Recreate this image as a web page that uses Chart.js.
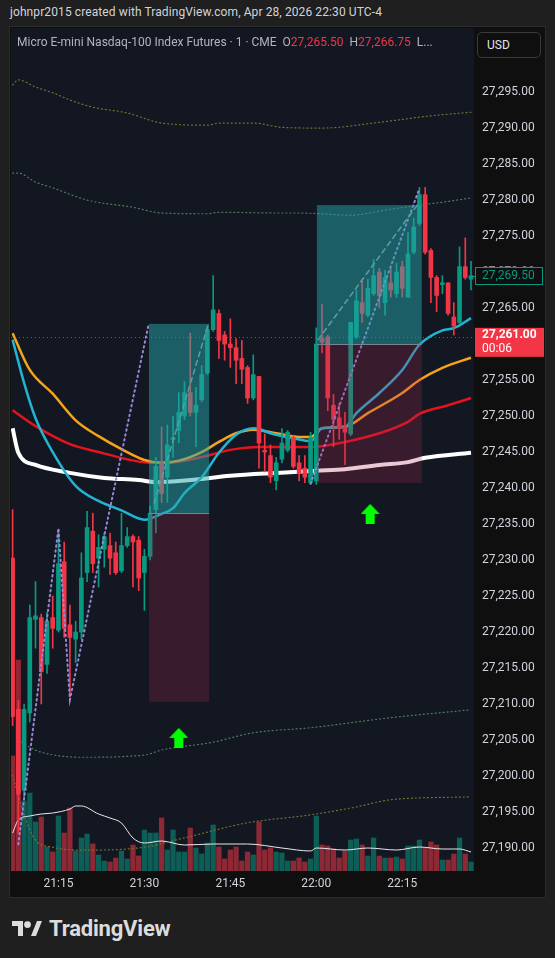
<!DOCTYPE html>
<html>
<head>
<meta charset="utf-8">
<script src="https://cdn.jsdelivr.net/npm/chart.js@4.4.1/dist/chart.umd.min.js"></script>
<style>
  body { margin: 0; width: 555px; height: 958px; background: #1f1f1f; overflow: hidden;
         font-family: Roboto, "Noto Sans", sans-serif; position: relative; }
  #credit { position: absolute; left: 10px; top: 5px; color: #d1d4dc; font-size: 12px; letter-spacing: 0.1px; }
  #frame { position: absolute; left: 9px; top: 26px; width: 537px; height: 872px;
           border: 1px solid #2c2c2c; box-sizing: border-box; background: #0f0f0f; }
  #wrap { position: absolute; left: 10px; top: 27px; width: 535px; height: 870px; }
  #legend { position: absolute; left: 17px; top: 35px; color: #b2b5be; font-size: 12px; white-space: pre; }
  #legend .dn { color: #f23645; }
  #usd { position: absolute; left: 477px; top: 32px; width: 64px; height: 26px; box-sizing: border-box;
         border: 1px solid #3a3a3a; border-radius: 5px; background: #0f0f0f; color: #e0e3eb;
         font-size: 12px; line-height: 24px; padding-left: 9px; }
  #footer { position: absolute; left: 12px; top: 914px; height: 28px; display: flex; align-items: center; }
  #footer span { color: #dcdcdc; font-size: 22px; font-weight: 700; margin-left: 7px; letter-spacing: -0.2px; }
</style>
</head>
<body>
<div id="credit">johnpr2015 created with TradingView.com, Apr 28, 2026 22:30 UTC-4</div>
<div id="frame"></div>
<div id="wrap"><canvas id="chart" width="535" height="870"></canvas></div>
<div id="legend">Micro E-mini Nasdaq-100 Index Futures · 1 · CME  O<span class="dn">27,265.50</span>  H<span class="dn">27,266.75</span>  L...</div>
<div id="usd">USD</div>
<div id="footer">
  <svg width="30" height="15" viewBox="0 0 30 15">
    <path d="M0 0 H11 V15 H6 V5 H0 Z" fill="#dcdcdc"/>
    <circle cx="15.5" cy="3.6" r="3.4" fill="#dcdcdc"/>
    <path d="M19 15 L25 0 H30 L24 15 Z" fill="#dcdcdc"/>
  </svg>
  <span>TradingView</span>
</div>
<script>
// ── DATA ────────────────────────────────────────────────────────────────────
// 1-minute candles, 21:07 .. 22:27 (index 0 = 21:07)
const opens  = [27230.25,27209.25,27198,27208.75,27221.75,27222,27215.5,27222,27220.25,27229.75,
                27221,27219,27220,27228.25,27234,27230.25,27231.5,27232,27231,27228.5,
                27232,27233.25,27232.75,27228.25,27230.5,27237,27243.5,27241.5,27246.75,27248,
                27250,27253.25,27250.5,27252.25,27256,27262,27264.25,27261.25,27260,27259.5,
                27258,27256.75,27252.5,27255.5,27245.25,27244.5,27241,27244,27245.25,27247,
                27243.5,27242.75,27240.75,27241,27260.75,27261,27251.5,27249.75,27248.5,27247.5,
                27261,27265.75,27264,27267,27270,27265.75,27268.5,27267,27270.75,27266.5,
                27272.75,27276.75,27280.75,27273,27269.25,27268.25,27268.5,27263.75,27263,27270.75,
                27269];
const highs  = [27237,27210.5,27210,27223.75,27227,27222.5,27222.75,27225,27233.75,27232.5,
                27223.75,27221.5,27231,27236.75,27236.5,27233.5,27233.75,27233.75,27232.5,27236.5,
                27234.5,27233.5,27233.25,27231.5,27237.5,27244.25,27248.5,27248.75,27250,27253.25,
                27254.75,27261.5,27254,27257,27262.5,27269.5,27264.75,27261.75,27263.5,27260.75,
                27260.5,27257,27258.5,27255.5,27247.5,27246,27244.25,27248.25,27248,27247.25,
                27244.5,27244.5,27247.75,27262.25,27265.5,27261.25,27253,27251.75,27250.5,27263,
                27267.5,27269,27269,27271.75,27270.5,27270.25,27270.5,27271.25,27271.5,27275.5,
                27277.5,27281.75,27281.75,27273.25,27269.5,27269.5,27268.5,27265.75,27273.5,27274.75,
                27271.5];
const lows   = [27207,27192,27196.75,27207.5,27217.75,27210,27214.25,27217.75,27220,27219.25,
                27211,27215.75,27219,27227,27228.25,27226.25,27229,27228,27228,27228.25,
                27231.75,27226.25,27225.75,27223,27230,27233.75,27238,27238,27244.25,27246.25,
                27249.5,27250,27245.75,27252,27255.75,27261.75,27258,27257.75,27256.75,27254.5,
                27254.5,27251.75,27252.25,27242.75,27242.25,27240.75,27239.75,27243.5,27245,27242.75,
                27241,27240.75,27240.5,27240.5,27258.75,27250.75,27245.75,27246.75,27243.25,27247.25,
                27260.75,27263,27263.75,27266.75,27265,27264,27266.5,27266.5,27266.5,27266.5,
                27272.5,27276.5,27272.5,27265.75,27264.5,27267,27264,27261.25,27262.75,27269,
                27267.5];
const closes = [27208.25,27197.5,27209.25,27222,27222.25,27214.5,27221.5,27220.5,27229.5,27220.5,
                27219.25,27220,27227.5,27234.5,27229.5,27231.75,27233.25,27230.25,27228.25,27232,
                27233.25,27232.5,27227.5,27230.5,27236.5,27243,27239.25,27246,27247,27250.5,
                27253.25,27250.5,27251.5,27255.75,27262,27264.75,27260.5,27260,27259.5,27257.75,
                27256.5,27252.5,27255.75,27246.25,27245,27241.5,27243.5,27246.25,27247.75,27243,
                27242,27241.5,27247,27260,27260.25,27252.5,27249.5,27248.25,27247.75,27263,
                27266,27264.25,27267.75,27269.5,27266.75,27269.25,27267.5,27270,27267.75,27272.5,
                27276.25,27280.75,27272.75,27269.25,27266.75,27268.5,27264.25,27262.5,27270.75,27269.25,
                27269.5];
const volumes = [1150,2110,700,780,490,540,240,190,550,380,630,200,330,370,270,160,100,90,130,200,
                 120,260,150,410,380,380,530,210,410,190,190,430,230,170,280,460,240,120,210,240,
                 100,190,160,490,210,230,190,180,100,100,130,90,120,550,260,250,220,130,200,310,
                 320,260,150,330,150,130,130,140,120,250,250,310,230,290,260,110,110,170,330,170,90];

// volume moving average (read at sampled minutes)
const volMaIdx = [0,1,3,5,7,10,11,12,15,17,19,21,23,26,30,35,41,47,52,53,58,62,67,71,75,78,80];
const volMa    = [380,510,550,570,580,620,650,650,570,530,480,330,280,300,260,270,270,230,200,230,210,230,210,240,220,220,190];

// moving averages (price)
const cyanIdx  = [0,2,4,7,11,15,19,23,26,28,30,33,36,39,42,43,45,49,52,54,58,60,64,68,71,75,77,80];
const cyanMa   = [27260.6,27254.6,27249.7,27245,27240.3,27238.2,27236.9,27235.6,27236.4,27237.2,27239.3,27241.5,27244.9,27247.4,
                  27248.3,27248.2,27247.6,27246.9,27246.5,27248.3,27248.5,27250.4,27253.2,27256.4,27259.9,27261.9,27262.2,27263.6];
const orangeIdx = [0,3,7,11,15,19,23,26,29,33,36,39,42,46,50,52,54,58,62,68,71,75,80];
const orangeMa  = [27261.5,27256.4,27253.1,27249.4,27247.2,27245.4,27243.9,27243.5,27243.8,27245,27246.4,27247.6,
                   27248.1,27247.6,27247.1,27247.1,27248.3,27248.5,27250.4,27253.2,27255,27256.7,27258.1];
const redIdx   = [0,4,10,15,20,24,27,33,38,43,48,52,58,64,69,71,76,80];
const redMa    = [27250.8,27248.6,27246.1,27245,27244,27243.5,27243.5,27244.3,27245.3,27245.7,27245.7,27245.7,
                  27246.4,27247.6,27249.2,27250.3,27251.5,27252.5];
const whiteIdx = [0,1,4,10,16,22,25,31,38,46,53,58,64,69,72,80];
const whiteMa  = [27248.3,27244.9,27243.2,27242.1,27241.4,27241.1,27240.8,27241.1,27241.7,27242.1,27242.4,27242.6,
                  27243.2,27243.6,27244.2,27244.9];

// dotted envelope bands
const bandTopIdx = [0,1,4,7,10,14,20,26,34,36,42,47,54,64,73,80];
const bandTop    = [27296,27296.7,27295.7,27294.9,27293.9,27292.9,27292.1,27290.7,27290.4,27290.7,27290.7,27290.1,27290,27290.8,27291.7,27292.2];
const bandUpIdx  = [0,1,4,7,13,21,26,34,36,47,50,59,65,71,75,80];
const bandUp     = [27283.75,27283.75,27282.5,27281.7,27280,27279,27278.2,27278.1,27278.3,27278.2,27278.2,27277.9,27278.6,27279.3,27279.7,27280.3];
const bandLoIdx  = [1,3,5,12,23,26,35,42,52,60,66,80];
const bandLo     = [27205,27204,27203.3,27202.6,27202.9,27203.6,27204.7,27206,27206.7,27207.5,27208.1,27209.2];
const bandBotIdx = [0,2,4,7,12,23,30,41,52,60,66,80];
const bandBot    = [27200.1,27194.6,27191.1,27190.1,27189.7,27190.1,27191.4,27193.5,27194.6,27195.7,27196.7,27197.1];

// zigzag (purple dotted) and dashed trend lines
const zig1Idx = [1,8,10,23.7];
const zig1    = [27190.5,27234.4,27210.6,27262.6];
const zig2Idx = [52,71];
const zig2    = [27240.6,27281.6];
const dash1Idx = [24.7,34.1];
const dash1    = [27237.9,27262.6];
const dash2Idx = [53.3,70.9];
const dash2    = [27260.6,27279.6];

// long position boxes
const boxStart  = [23.8, 53.1];
const boxEnd    = [34.3, 71.4];
const boxEntry  = [27236.5, 27260];
const boxTarget = [27262.8, 27279.3];
const boxStop   = [27210.3, 27240.7];

// buy signal arrows
const arrowIdx   = [29, 62.4];
const arrowPrice = [27205.3, 27236.4];

// axis labels
const timeTickIdx = [8, 23, 38, 53, 68];
const timeTicks   = ["21:15", "21:30", "21:45", "22:00", "22:15"];
const priceLabelTop = 27295;   // labels above this sit under the currency button
const lastPrice   = 27269.5;
const alertPrice  = 27261;
const alertTimer  = "00:06";

// ── HELPERS ─────────────────────────────────────────────────────────────────
const UP = "#089981", DN = "#f23645";
const isUp = closes.map((c, i) => c >= opens[i]);
const pts = (idx, vals) => idx.map((x, i) => ({ x, y: vals[i] }));
const fmt = v => v.toLocaleString("en-US", { minimumFractionDigits: 2, maximumFractionDigits: 2 });

function arrowImage() {
  const c = document.createElement("canvas");
  c.width = 19; c.height = 20;
  const g = c.getContext("2d");
  g.fillStyle = "#00ff00";
  g.beginPath();
  g.moveTo(9.5, 0); g.lineTo(19, 10); g.lineTo(14, 10); g.lineTo(14, 20);
  g.lineTo(5, 20); g.lineTo(5, 10); g.lineTo(0, 10); g.closePath();
  g.fill();
  return c;
}

function lineSet(data, color, width, order, dash) {
  return {
    type: "line", data, borderColor: color, borderWidth: width, pointRadius: 0,
    cubicInterpolationMode: "monotone", borderDash: dash || [], order,
    borderCapStyle: dash ? "round" : "butt"
  };
}

// ── PLUGINS ─────────────────────────────────────────────────────────────────
const backdrop = {
  id: "backdrop",
  beforeDraw(chart) {
    const { ctx, chartArea: a } = chart;
    ctx.save();
    ctx.fillStyle = "#0f0f0f";
    ctx.fillRect(0, 0, chart.width, chart.height);
    ctx.fillStyle = "#131722";
    ctx.fillRect(a.left, a.top, a.right - a.left, a.bottom - a.top);
    ctx.restore();
  }
};

const positions = {
  id: "positions",
  afterDatasetsDraw(chart) {
    const { ctx, chartArea: a } = chart;
    const xs = chart.scales.x, ys = chart.scales.y;
    ctx.save();
    ctx.beginPath();
    ctx.rect(a.left, a.top, a.right - a.left, a.bottom - a.top);
    ctx.clip();
    boxStart.forEach((s, i) => {
      const x0 = xs.getPixelForValue(s), x1 = xs.getPixelForValue(boxEnd[i]);
      const yE = ys.getPixelForValue(boxEntry[i]);
      const yT = ys.getPixelForValue(boxTarget[i]);
      const yS = ys.getPixelForValue(boxStop[i]);
      ctx.fillStyle = "rgba(38,166,170,0.5)";
      ctx.fillRect(x0, yT, x1 - x0, yE - yT);
      ctx.fillStyle = "rgba(170,40,85,0.25)";
      ctx.fillRect(x0, yE, x1 - x0, yS - yE);
      ctx.strokeStyle = "#7b8290";
      ctx.lineWidth = 1;
      ctx.beginPath();
      ctx.moveTo(x0, Math.round(yE) + 0.5);
      ctx.lineTo(x1, Math.round(yE) + 0.5);
      ctx.stroke();
    });
    // alert price line
    const yA = Math.round(ys.getPixelForValue(alertPrice)) + 0.5;
    ctx.strokeStyle = "rgba(242,54,69,0.85)";
    ctx.setLineDash([1, 3]);
    ctx.beginPath();
    ctx.moveTo(a.left, yA);
    ctx.lineTo(a.right, yA);
    ctx.stroke();
    ctx.restore();
  },
  afterDraw(chart) {
    const { ctx, chartArea: a } = chart;
    const ys = chart.scales.y;
    ctx.save();
    ctx.font = "12px Roboto, 'Noto Sans', sans-serif";
    ctx.textBaseline = "middle";
    // last price tag
    const yL = ys.getPixelForValue(lastPrice);
    ctx.fillStyle = "#0f0f0f";
    ctx.fillRect(a.right + 1, yL - 9, 68, 18);
    ctx.strokeStyle = UP;
    ctx.lineWidth = 1;
    ctx.strokeRect(a.right + 1.5, Math.round(yL) - 8.5, 67, 17);
    ctx.beginPath();
    ctx.moveTo(a.right - 5, Math.round(yL) + 0.5);
    ctx.lineTo(a.right + 1, Math.round(yL) + 0.5);
    ctx.stroke();
    ctx.fillStyle = UP;
    ctx.fillText(fmt(lastPrice), a.right + 8, yL + 0.5);
    // alert price tag with countdown
    const yA = ys.getPixelForValue(alertPrice);
    ctx.fillStyle = DN;
    ctx.fillRect(a.right + 1, yA - 9, 69, 29);
    ctx.fillStyle = "#ffffff";
    ctx.font = "bold 12px Roboto, 'Noto Sans', sans-serif";
    ctx.fillText(fmt(alertPrice), a.right + 8, yA - 1.5);
    ctx.font = "12px Roboto, 'Noto Sans', sans-serif";
    ctx.fillText(alertTimer, a.right + 8, yA + 12);
    ctx.restore();
  }
};

// ── CHART ───────────────────────────────────────────────────────────────────
const idx = opens.map((_, i) => i);
const VOL_AXIS_MAX = 8430;

new Chart(document.getElementById("chart"), {
  type: "bar",
  data: {
    datasets: [
      { type: "bar", data: idx.map(i => ({ x: i, y: volumes[i] })), yAxisID: "yv",
        backgroundColor: isUp.map(u => u ? "rgba(8,153,129,0.55)" : "rgba(242,54,69,0.55)"),
        barThickness: 4.6, grouped: false, order: 100 },
      Object.assign(lineSet(pts(volMaIdx, volMa), "#e8e8e8", 1, 95), { yAxisID: "yv" }),
      lineSet(pts(bandTopIdx, bandTop), "#74742f", 1.2, 90, [1, 3]),
      lineSet(pts(bandUpIdx, bandUp), "#4f7d5c", 1.2, 90, [1, 3]),
      lineSet(pts(bandLoIdx, bandLo), "#4f7d5c", 1.2, 90, [1, 3]),
      lineSet(pts(bandBotIdx, bandBot), "#74742f", 1.2, 90, [1, 3]),
      lineSet(pts(whiteIdx, whiteMa), "#ffffff", 4, 84),
      lineSet(pts(redIdx, redMa), "#e3141e", 2.5, 83),
      lineSet(pts(orangeIdx, orangeMa), "#f7a21b", 2.5, 82),
      lineSet(pts(cyanIdx, cyanMa), "#22b4d2", 2.5, 81),
      { type: "bar", data: idx.map(i => ({ x: i, y: [lows[i], highs[i]] })),
        backgroundColor: isUp.map(u => u ? UP : DN), barThickness: 1, grouped: false, order: 60 },
      { type: "bar", data: idx.map(i => ({ x: i, y: [opens[i], closes[i]] })),
        backgroundColor: isUp.map(u => u ? UP : DN), barThickness: 4, minBarLength: 1,
        grouped: false, order: 59 },
      Object.assign(lineSet(pts(zig1Idx, zig1), "#9a86d6", 2, 50, [1.5, 3.5]), { tension: 0, cubicInterpolationMode: "default" }),
      Object.assign(lineSet(pts(zig2Idx, zig2), "#9a86d6", 2, 50, [1.5, 3.5]), { tension: 0, cubicInterpolationMode: "default" }),
      Object.assign(lineSet(pts(dash1Idx, dash1), "#8d93a0", 1.5, 49, [5, 4]), { cubicInterpolationMode: "default" }),
      Object.assign(lineSet(pts(dash2Idx, dash2), "#8d93a0", 1.5, 49, [5, 4]), { cubicInterpolationMode: "default" }),
      { type: "line", data: pts(arrowIdx, arrowPrice), showLine: false,
        pointStyle: arrowImage(), pointRadius: 10, order: 10 }
    ]
  },
  options: {
    responsive: false,
    animation: false,
    devicePixelRatio: 1,
    layout: { autoPadding: false, padding: { left: 1, top: 1, right: 0, bottom: 0 } },
    plugins: { legend: { display: false }, tooltip: { enabled: false } },
    scales: {
      x: {
        type: "linear", min: -0.28, max: 80.52, offset: false,
        grid: { display: false, drawTicks: false }, border: { display: false },
        afterBuildTicks: s => { s.ticks = timeTickIdx.map(v => ({ value: v })); },
        afterFit: s => { s.height = 26; s.paddingLeft = 0; s.paddingRight = 0; },
        ticks: { color: "#d1d4dc", font: { family: "Roboto", size: 12 }, padding: 6, maxRotation: 0,
                 autoSkip: false, callback: v => timeTicks[timeTickIdx.indexOf(v)] }
      },
      y: {
        position: "right", min: 27186.8, max: 27303.9,
        grid: { display: false, drawTicks: false }, border: { display: false },
        afterFit: s => { s.width = 71; s.paddingTop = 0; s.paddingBottom = 0; },
        ticks: { stepSize: 5, includeBounds: false, color: "#d1d4dc", padding: 8,
                 font: { family: "Roboto", size: 12 },
                 callback: v => (v > priceLabelTop ? "" : fmt(v)) }
      },
      yv: { display: false, min: 0, max: VOL_AXIS_MAX }
    }
  },
  plugins: [backdrop, positions]
});
</script>
</body>
</html>
